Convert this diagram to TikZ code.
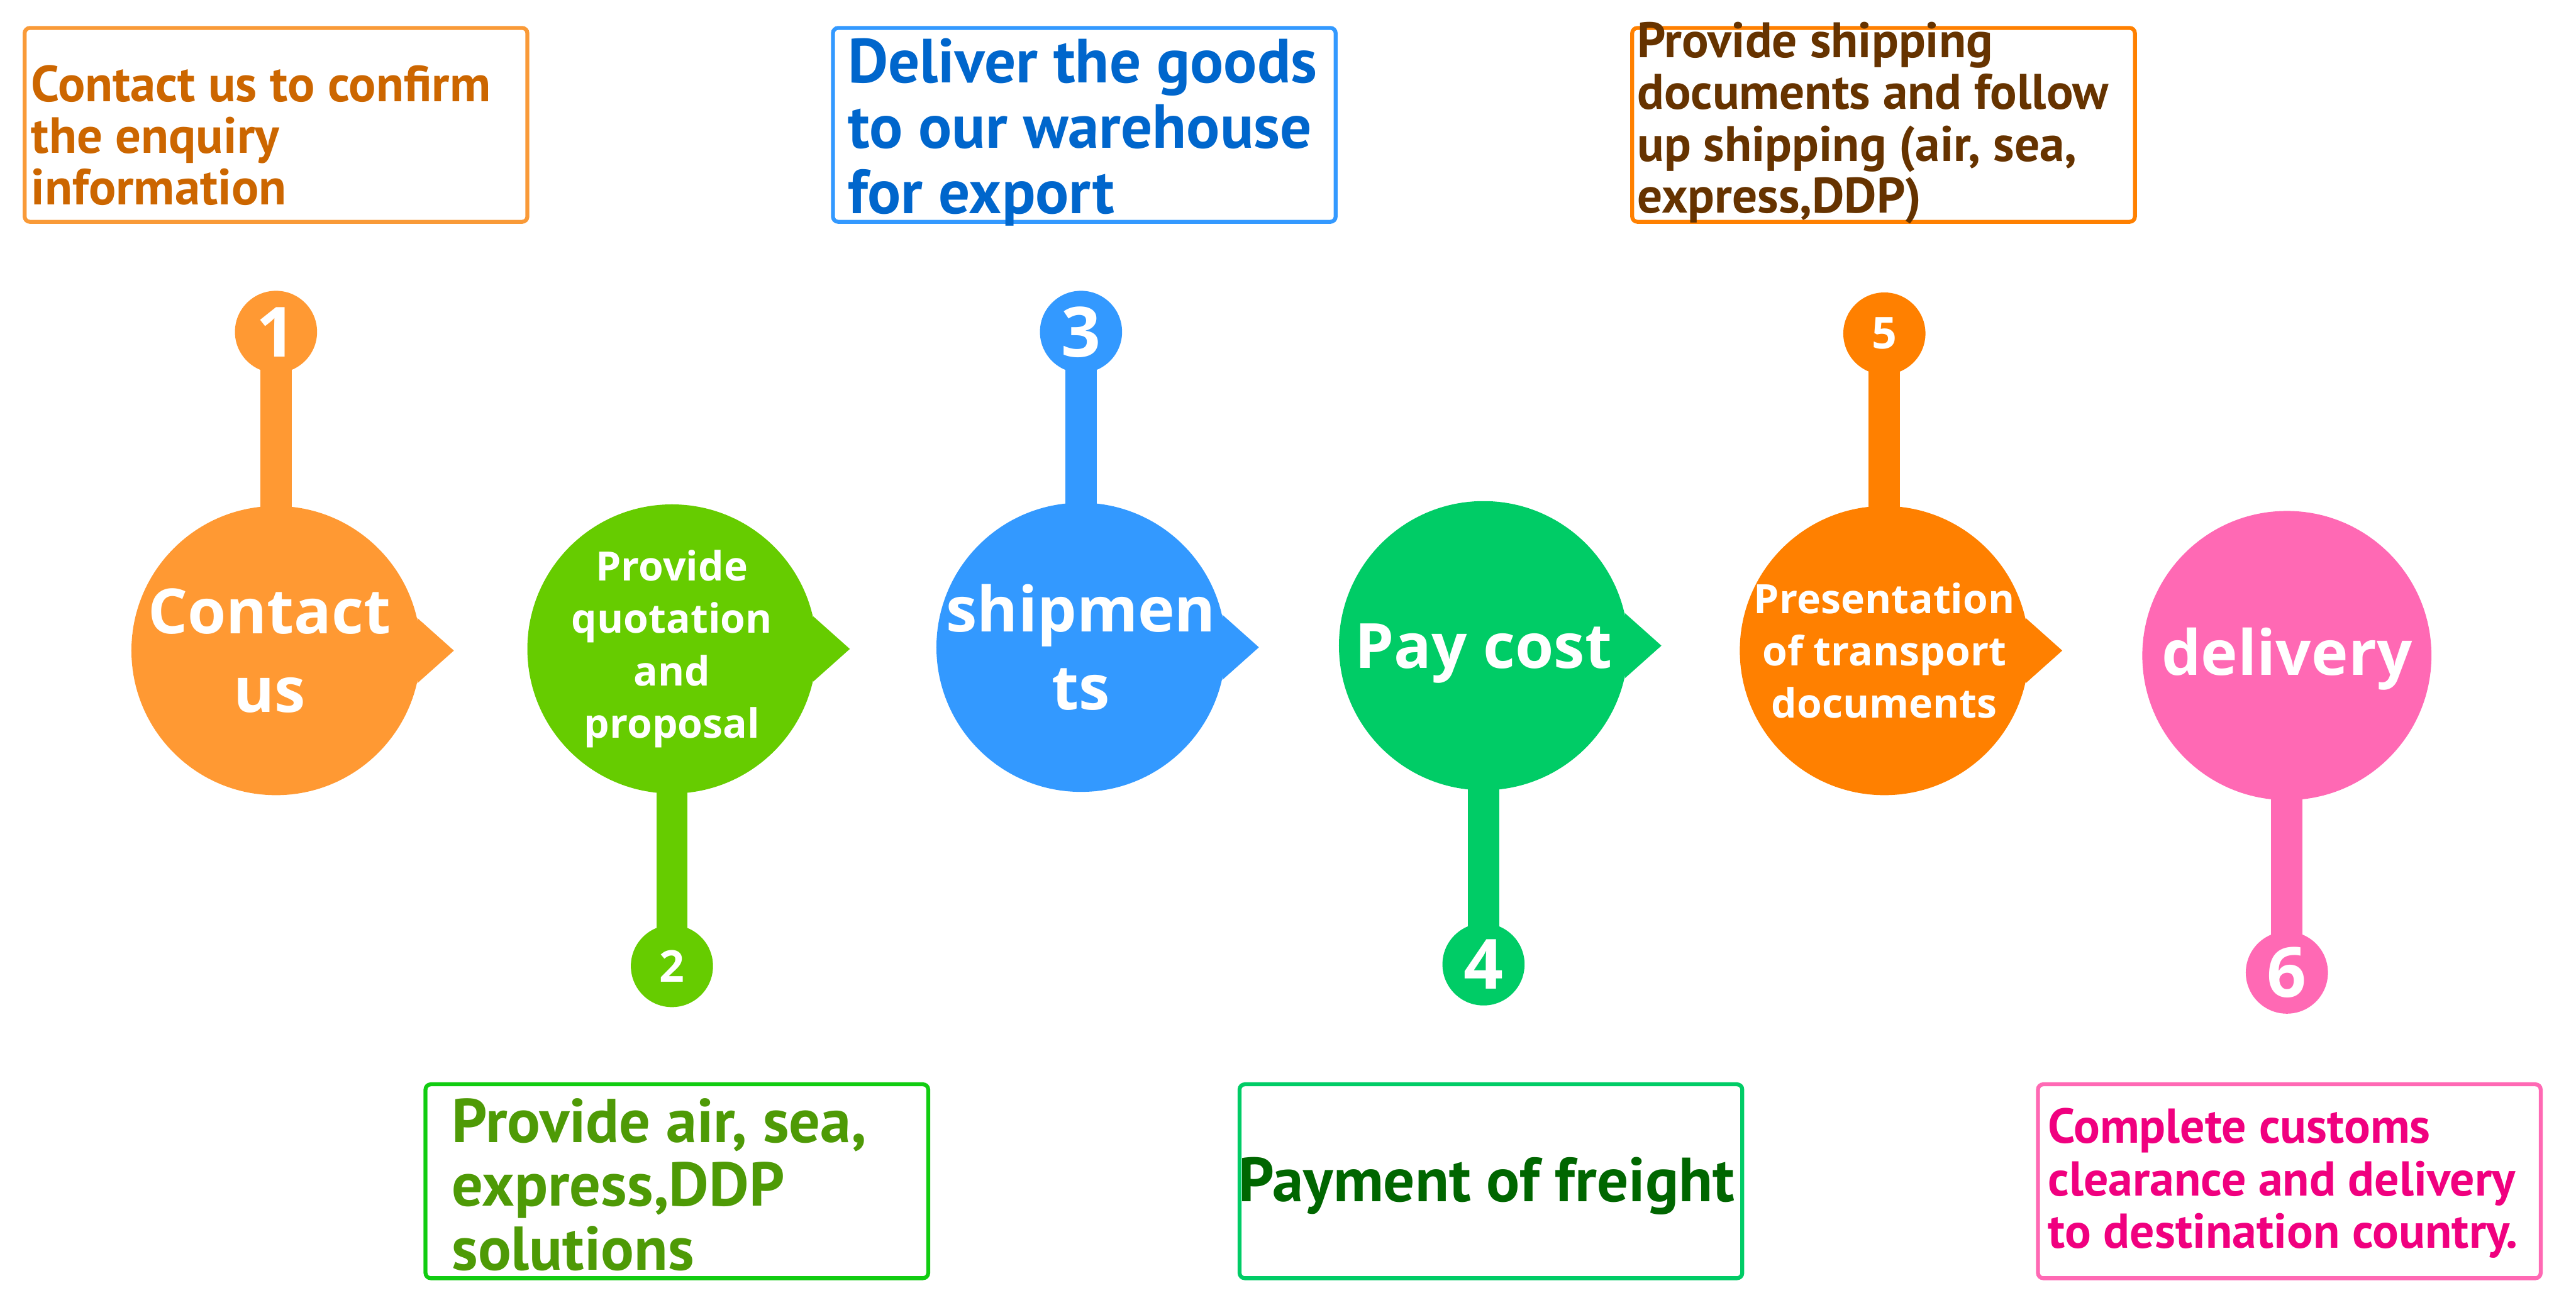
\documentclass[tikz,border=0pt]{standalone}
\usepackage{fontspec}
\setmainfont{Open Sans}
\newfontfamily\boxfont{PT Sans}
\usetikzlibrary{backgrounds, positioning}

\definecolor{stepA}{HTML}{FF9933}
\definecolor{stepB}{HTML}{66CC00}
\definecolor{stepC}{HTML}{3399FF}
\definecolor{stepD}{HTML}{00CC66}
\definecolor{stepE}{HTML}{FF8000}
\definecolor{stepF}{HTML}{FF69B4}
\definecolor{lineA}{HTML}{F99A38}
\definecolor{lineB}{HTML}{11CC11}
\definecolor{inkA}{HTML}{CC6600}
\definecolor{inkB}{HTML}{4E9A06}
\definecolor{inkC}{HTML}{0066CC}
\definecolor{inkD}{HTML}{006600}
\definecolor{inkE}{HTML}{663300}
\definecolor{inkF}{HTML}{F0007F}

\begin{document}
\begin{tikzpicture}[x=0.25mm, y=-0.25mm,
		bubble/.style={circle, minimum size=44mm, inner sep=0pt},
		bubtext/.style={text=white, align=center, inner sep=0pt, font=\bfseries\fontsize{27}{34}\selectfont},
		bubsmall/.style={bubtext, font=\bfseries\fontsize{17.5}{22.7}\selectfont},
		knob/.style={circle, minimum size=12.5mm, inner sep=0pt, text=white, font=\bfseries\fontsize{30}{30}\selectfont},
		knobsmall/.style={knob, font=\bfseries\fontsize{19}{19}\selectfont},
		stem/.style={line width=4.75mm},
		frame/.style={draw, line width=0.6mm, rounded corners=0.8mm, minimum width=76.5mm, minimum height=29.5mm},
		note/.style={align=left, inner sep=0pt, anchor=west, font=\boxfont\bfseries\fontsize{22}{22.4}\selectfont}
		]
		\useasboundingbox (0,0) rectangle (1568,794);
		
		% Step 1
		\node[bubble, fill=stepA] (m1) at (168,396) {};
		\node[bubtext] (l1) at ([xshift=-1mm]m1) {Contact\\us};
		\node[knob, fill=stepA] (n1) at (168,202) {1};
		\fill[stepA] (m1.13) -- ([xshift=5mm]m1.east) -- (m1.-13) -- cycle;
		\node[frame, draw=lineA] (b1) at (168,76) {};
		\node[note, text=inkA] (t1) at ([xshift=1.25mm, yshift=-1.6mm]b1.west) {Contact us to confirm\\the enquiry\\information};
		
		% Step 2
		\node[bubble, fill=stepB] (m2) at (409,395) {};
		\node[bubsmall] (l2) at (m2) {Provide\\quotation\\and\\proposal};
		\node[knobsmall, fill=stepB] (n2) at (409,588) {2};
		\fill[stepB] (m2.13) -- ([xshift=5mm]m2.east) -- (m2.-13) -- cycle;
		\node[frame, draw=lineB] (b2) at (412,719) {};
		\node[note, text=inkB, font=\boxfont\bfseries\fontsize{26.8}{27.7}\selectfont] (t2) at ([xshift=4.25mm, yshift=-0.5mm]b2.west) {Provide air, sea,\\express,DDP\\solutions};
		
		% Step 3
		\node[bubble, fill=stepC] (m3) at (658,394) {};
		\node[bubtext] (l3) at (m3) {shipmen\\ts};
		\node[knob, fill=stepC] (n3) at (658,202) {3};
		\fill[stepC] (m3.13) -- ([xshift=5mm]m3.east) -- (m3.-13) -- cycle;
		\node[frame, draw=stepC] (b3) at (660,76) {};
		\node[note, text=inkC, font=\boxfont\bfseries\fontsize{27}{28.4}\selectfont] (t3) at ([xshift=2.5mm, yshift=-1.1mm]b3.west) {Deliver the goods\\to our warehouse\\for export};
		
		% Step 4
		\node[bubble, fill=stepD] (m4) at (903,393) {};
		\node[bubtext] (l4) at ([yshift=-1.2mm]m4) {Pay cost};
		\node[knob, fill=stepD] (n4) at (903,587) {4};
		\fill[stepD] (m4.13) -- ([xshift=5mm]m4.east) -- (m4.-13) -- cycle;
		\node[frame, draw=stepD] (b4) at (907.5,719) {};
		\node[note, text=inkD, font=\boxfont\bfseries\fontsize{27}{28}\selectfont] (t4) at ([xshift=0.1mm, yshift=-0.7mm]b4.west) {Payment of freight};
		
		% Step 5
		\node[bubble, fill=stepE] (m5) at (1147,396) {};
		\node[bubsmall] (l5) at (m5) {Presentation\\of transport\\documents};
		\node[knobsmall, fill=stepE] (n5) at (1147,203) {5};
		\fill[stepE] (m5.13) -- ([xshift=5mm]m5.east) -- (m5.-13) -- cycle;
		\node[frame, draw=stepE] (b5) at (1146.5,76) {};
		\node[note, text=inkE, font=\boxfont\bfseries\fontsize{21.6}{22.4}\selectfont] (t5) at ([xshift=1mm, yshift=0.3mm]b5.west) {Provide shipping\\documents and follow\\up shipping (air, sea,\\express,DDP)};
		
		% Step 6
		\node[bubble, fill=stepF] (m6) at (1392,399) {};
		\node[bubtext] (l6) at ([yshift=-0.5mm]m6) {delivery};
		\node[knob, fill=stepF] (n6) at (1392,592) {6};
		\node[frame, draw=stepF] (b6) at (1393.5,719) {};
		\node[note, text=inkF, font=\boxfont\bfseries\fontsize{21.2}{22.8}\selectfont] (t6) at ([xshift=1.75mm, yshift=-0.3mm]b6.west) {Complete customs\\clearance and delivery\\to destination country.};
		
		% stems
		\begin{scope}[on background layer]
			\draw[stem, stepA] (m1.center) -- (n1.center);
			\draw[stem, stepB] (m2.center) -- (n2.center);
			\draw[stem, stepC] (m3.center) -- (n3.center);
			\draw[stem, stepD] (m4.center) -- (n4.center);
			\draw[stem, stepE] (m5.center) -- (n5.center);
			\draw[stem, stepF] (m6.center) -- (n6.center);
		\end{scope}
	\end{tikzpicture}
\end{document}
